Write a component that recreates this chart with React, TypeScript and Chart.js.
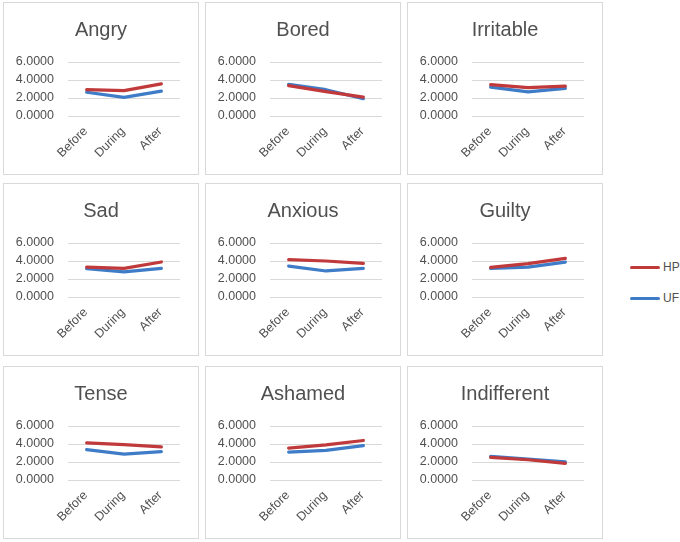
import React, { useEffect, useRef } from 'react';
import { Chart, registerables } from 'chart.js';

Chart.register(...registerables);

const CATEGORIES = ['Before', 'During', 'After'];
const EMOTIONS = ['Angry', 'Bored', 'Irritable', 'Sad', 'Anxious', 'Guilty', 'Tense', 'Ashamed', 'Indifferent'];
const SERIES_NAMES = ['HP', 'UF'];
const HP_VALUES = [
  [2.94, 2.83, 3.58],
  [3.37, 2.72, 2.1],
  [3.48, 3.15, 3.33],
  [3.33, 3.19, 3.89],
  [4.15, 4.0, 3.74],
  [3.28, 3.72, 4.28],
  [4.12, 3.94, 3.68],
  [3.53, 3.9, 4.39],
  [2.51, 2.25, 1.84],
];
const UF_VALUES = [
  [2.64, 2.08, 2.76],
  [3.52, 2.92, 1.92],
  [3.21, 2.67, 3.07],
  [3.15, 2.78, 3.19],
  [3.44, 2.89, 3.19],
  [3.17, 3.33, 3.88],
  [3.37, 2.88, 3.15],
  [3.11, 3.3, 3.82],
  [2.62, 2.32, 2.02],
];
const Y_MIN = 0;
const Y_MAX = 6;
const Y_STEP = 2;

const COLORS = ['#C0393B', '#3E7CC7'];
const TEXT = '#505050';
const GRID = '#D9D9D9';
const FONT = "'Liberation Sans', Arial, sans-serif";

const COL_X = [3, 205, 407];
const ROW_Y = [2, 183, 366];
const PANEL_W = 196;
const PANEL_H = 173;

function Panel(props: { title: string; hp: number[]; uf: number[]; left: number; top: number }) {
  const ref = useRef<HTMLCanvasElement>(null);
  useEffect(() => {
    const chart = new Chart(ref.current as HTMLCanvasElement, {
      type: 'line',
      data: {
        labels: CATEGORIES,
        datasets: [props.hp, props.uf].map((d, i) => ({
          label: SERIES_NAMES[i],
          data: d,
          borderColor: COLORS[i],
          backgroundColor: COLORS[i],
          borderWidth: 3.25,
          pointRadius: 0,
          borderCapStyle: 'round' as const,
          borderJoinStyle: 'round' as const,
          fill: false,
          tension: 0,
        })),
      },
      options: {
        animation: false,
        responsive: false,
        events: [],
        layout: { padding: 0 },
        plugins: {
          legend: { display: false },
          tooltip: { enabled: false },
          title: {
            display: true,
            text: props.title,
            color: TEXT,
            font: { family: FONT, size: 20, weight: 'normal' },
            padding: { top: 15, bottom: 20 },
          },
        },
        scales: {
          x: {
            type: 'category',
            offset: true,
            grid: { display: false },
            border: { display: false },
            ticks: {
              color: TEXT,
              font: { family: FONT, size: 12.5 },
              minRotation: 45,
              maxRotation: 45,
              autoSkip: false,
              padding: 0,
              labelOffset: -1,
            },
            afterFit: (s: any) => {
              s.height = 58;
            },
          },
          y: {
            min: Y_MIN,
            max: Y_MAX,
            grid: { color: GRID, lineWidth: 1, drawTicks: false },
            border: { display: false },
            ticks: {
              stepSize: Y_STEP,
              padding: 14,
              color: TEXT,
              font: { family: FONT, size: 12.5 },
              callback: (v: any) => Number(v).toFixed(4),
            },
            afterFit: (s: any) => {
              s.width = 64;
            },
          },
          yRight: {
            position: 'right',
            display: true,
            grid: { display: false },
            border: { display: false },
            ticks: { display: false },
            afterFit: (s: any) => {
              s.width = 18;
            },
          },
        },
      },
    } as any);
    return () => chart.destroy();
  }, []);
  return (
    <div
      style={{
        position: 'absolute',
        left: props.left,
        top: props.top,
        width: PANEL_W,
        height: PANEL_H,
        border: '1px solid ' + GRID,
        boxSizing: 'border-box',
        background: '#fff',
      }}
    >
      <canvas ref={ref} width={PANEL_W - 2} height={PANEL_H - 2} style={{ display: 'block', width: PANEL_W - 2, height: PANEL_H - 2 }} />
    </div>
  );
}

export default function App() {
  return (
    <div style={{ position: 'absolute', left: 0, top: 0, width: 680, height: 542, background: '#fff', overflow: 'hidden' }}>
      {EMOTIONS.map((e, i) => (
        <Panel key={e} title={e} hp={HP_VALUES[i]} uf={UF_VALUES[i]} left={COL_X[i % 3]} top={ROW_Y[Math.floor(i / 3)]} />
      ))}
      {SERIES_NAMES.map((n, i) => (
        <div key={n} style={{ position: 'absolute', left: 630, top: 259 + i * 31, height: 16, display: 'flex', alignItems: 'center' }}>
          <div style={{ width: 30, height: 3, background: COLORS[i], borderRadius: 1.5 }} />
          <span style={{ marginLeft: 3, fontFamily: FONT, fontSize: 12, color: TEXT }}>{n}</span>
        </div>
      ))}
    </div>
  );
}
